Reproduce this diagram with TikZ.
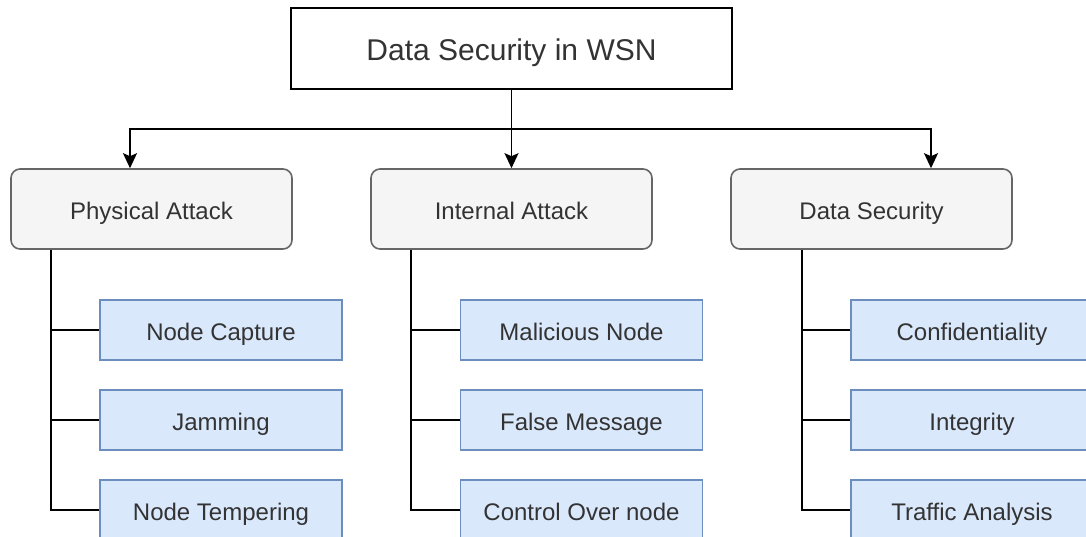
\documentclass[tikz,border=0pt]{standalone}
\usepackage{fontspec}
\setmainfont{Liberation Sans}
\usetikzlibrary{arrows.meta}
\definecolor{catfill}{HTML}{F5F5F5}
\definecolor{catline}{HTML}{666666}
\definecolor{txt}{HTML}{333333}
\definecolor{leaffill}{HTML}{DAE8FC}
\definecolor{leafline}{HTML}{6C8EBF}
\tikzset{
  rootbox/.style={draw=black, fill=white, line width=1.6pt, minimum width=441pt, minimum height=81pt, inner sep=0pt, text=txt, text height=30pt, text depth=5.6pt, font=\fontsize{30}{36}\selectfont},
  catbox/.style={draw=catline, fill=catfill, line width=1.6pt, rounded corners=9pt, minimum width=281pt, minimum height=80pt, inner sep=0pt, text=txt, text height=24pt, text depth=3.4pt, font=\fontsize{24}{29}\selectfont},
  leafbox/.style={draw=leafline, fill=leaffill, line width=1.6pt, minimum width=242pt, minimum height=60pt, inner sep=0pt, text=txt, text height=24pt, text depth=3.4pt, font=\fontsize{24}{29}\selectfont},
  link/.style={draw=black, line width=1.6pt},
  arrowlink/.style={link, -{Stealth[length=15pt, width=14pt, inset=3pt]}}
}
\begin{document}
\begin{tikzpicture}[x=1pt, y=-1pt]
  \useasboundingbox (0,0) rectangle (1086,537);
  \clip (0,0) rectangle (1086,537);

  % top level
  \node[rootbox] (root) at (511.5,48.5) {Data Security in WSN};

  % categories
  \node[catbox] (phys) at (151.5,209) {Physical Attack};
  \node[catbox] (intl) at (511.5,209) {Internal Attack};
  \node[catbox] (dsec) at (871.5,209) {Data Security};

  % leaves
  \node[leafbox] (cap) at (221,330) {Node Capture};
  \node[leafbox] (jam) at (221,420) {Jamming};
  \node[leafbox] (tmp) at (221,510) {Node Tempering};

  \node[leafbox] (mal) at (581.5,330) {Malicious Node};
  \node[leafbox] (fal) at (581.5,420) {False Message};
  \node[leafbox] (ctl) at (581.5,510) {Control Over node};

  \node[leafbox] (con) at (972,330) {Confidentiality};
  \node[leafbox] (itg) at (972,420) {Integrity};
  \node[leafbox] (trf) at (972,510) {Traffic Analysis};

  % drop points of the three arrows and the bus line
  \coordinate (bus) at (0,129);
  \coordinate (a1) at (130,0);
  \coordinate (a3) at (931,0);

  \draw[arrowlink] (root.south) -- (intl.north);
  \draw[arrowlink] (root.south) -- (root.south |- bus) -| (phys.north -| a1);
  \draw[arrowlink] (root.south) -- (root.south |- bus) -| (dsec.north -| a3);

  % branch spines
  \coordinate (b1) at (51,0);
  \coordinate (b2) at (411,0);
  \coordinate (b3) at (802,0);

  \draw[link] (phys.south -| b1) |- (cap.west);
  \draw[link] (phys.south -| b1) |- (jam.west);
  \draw[link] (phys.south -| b1) |- (tmp.west);

  \draw[link] (intl.south -| b2) |- (mal.west);
  \draw[link] (intl.south -| b2) |- (fal.west);
  \draw[link] (intl.south -| b2) |- (ctl.west);

  \draw[link] (dsec.south -| b3) |- (con.west);
  \draw[link] (dsec.south -| b3) |- (itg.west);
  \draw[link] (dsec.south -| b3) |- (trf.west);
\end{tikzpicture}
\end{document}
